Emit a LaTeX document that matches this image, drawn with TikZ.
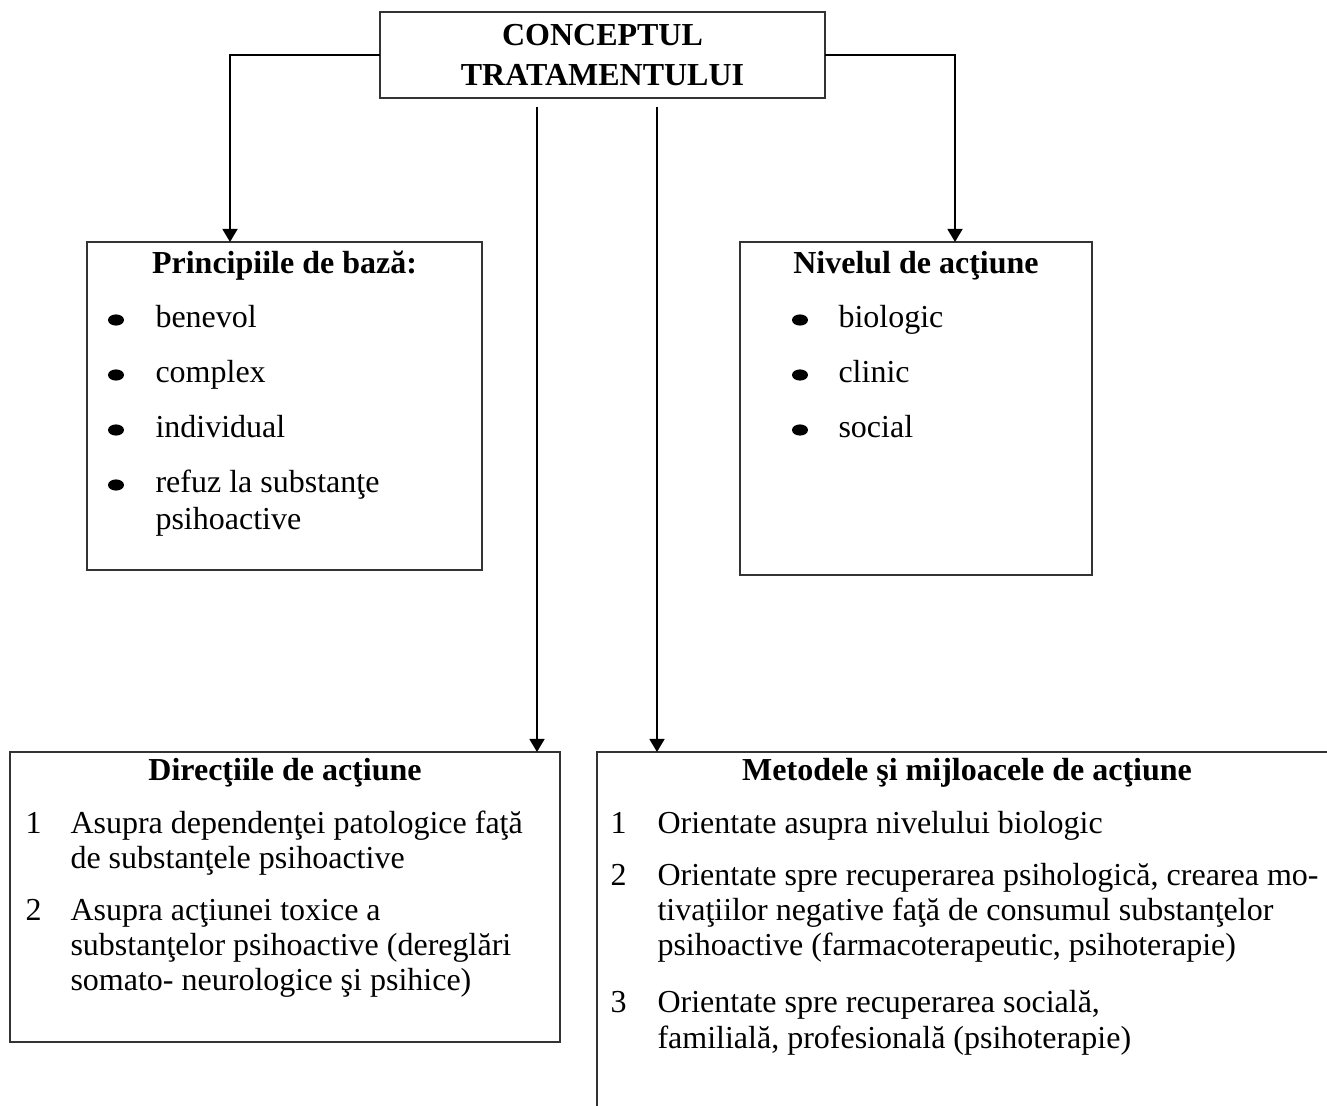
\documentclass[tikz,border=0pt]{standalone}
\usepackage{fontspec}
\setmainfont{Liberation Serif}
\usetikzlibrary{fit,arrows.meta}

\begin{document}
\begin{tikzpicture}[x=0.375pt,y=-0.375pt,
    font=\fontsize{12pt}{13.5pt}\selectfont,
    box/.style={draw=black!80,line width=0.6pt,inner sep=0,outer sep=0},
    head/.style={font=\fontsize{12pt}{13.5pt}\selectfont\bfseries,anchor=base,inner sep=0},
    item/.style={anchor=base west,inner sep=0},
    arr/.style={line width=0.75pt,-{Triangle[length=4.9pt,width=5.6pt]}},
    bullet/.style={fill}]
    \useasboundingbox (0,0) rectangle (1327,1106);
    \clip (0,0) rectangle (1327,1106);
    %==================
    \node[box,fit={(380,12) (825,98)}] (concept) {};
    \node[head,align=center,anchor=center] (ctext) at (concept.center)
        {CONCEPTUL\\[1.5pt]TRATAMENTULUI};
    %==================
    \node[box,fit={(87,242) (482,570)}] (princ) {};
    \node[box,fit={(740,242) (1092,575)}] (nivel) {};
    \node[box,fit={(10,752) (560,1042)}] (dir) {};
    \node[box,fit={(597,752) (1337,1160)}] (met) {};
    %==================
    \coordinate (pin) at (230,242);
    \coordinate (nin) at (955,242);
    \coordinate (dout) at (537,107);
    \coordinate (din) at (537,752);
    \coordinate (mout) at (657,107);
    \coordinate (min) at (657,752);
    \draw[arr] (concept.west) -| (pin);
    \draw[arr] (concept.east) -| (nin);
    \draw[arr] (dout) -- (din);
    \draw[arr] (mout) -- (min);
    % ===================
    \node[head] (ptitle) at (princ.north |- 0,273) {Principiile de bază:};
    \foreach \t [count=\i from 0] in {benevol,complex,individual,refuz la substanţe}{
        \fill[bullet] (116,{320+55*\i}) ellipse [x radius=3pt,y radius=2.1pt];
        \node[item] (p\i) at (155,{327+55*\i}) {\t};
    }
    \node[item] (p4) at (155,529) {psihoactive};
    % ===================
    \node[head] (ntitle) at (nivel.north |- 0,273) {Nivelul de acţiune};
    \foreach \t [count=\i from 0] in {biologic,clinic,social}{
        \fill[bullet] (800,{320+55*\i}) ellipse [x radius=3pt,y radius=2.1pt];
        \node[item] (n\i) at (838,{327+55*\i}) {\t};
    }
    % ===================
    \node[head] (dtitle) at (dir.north |- 0,780) {Direcţiile de acţiune};
    \node[item] (dn1) at (25,833) {1};
    \node[item] (d1a) at (70,833) {Asupra dependenţei patologice faţă};
    \node[item] (d1b) at (70,868) {de substanţele psihoactive};
    \node[item] (dn2) at (25,920) {2};
    \node[item] (d2a) at (70,920) {Asupra acţiunei toxice a};
    \node[item] (d2b) at (70,955) {substanţelor psihoactive (dereglări};
    \node[item] (d2c) at (70,990) {somato- neurologice şi psihice)};
    % ===================
    \node[head] (mtitle) at (met.north |- 0,780) {Metodele şi mijloacele de acţiune};
    \node[item] (mn1) at (610,833) {1};
    \node[item] (m1a) at (657,833) {Orientate asupra nivelului biologic};
    \node[item] (mn2) at (610,885) {2};
    \node[item] (m2a) at (657,885) {Orientate spre recuperarea psihologică, crearea mo-};
    \node[item] (m2b) at (657,920) {tivaţiilor negative faţă de consumul substanţelor};
    \node[item] (m2c) at (657,955) {psihoactive (farmacoterapeutic, psihoterapie)};
    \node[item] (mn3) at (610,1012) {3};
    \node[item] (m3a) at (657,1012) {Orientate spre recuperarea socială,};
    \node[item] (m3b) at (657,1048) {familială, profesională (psihoterapie)};
\end{tikzpicture}
\end{document}
